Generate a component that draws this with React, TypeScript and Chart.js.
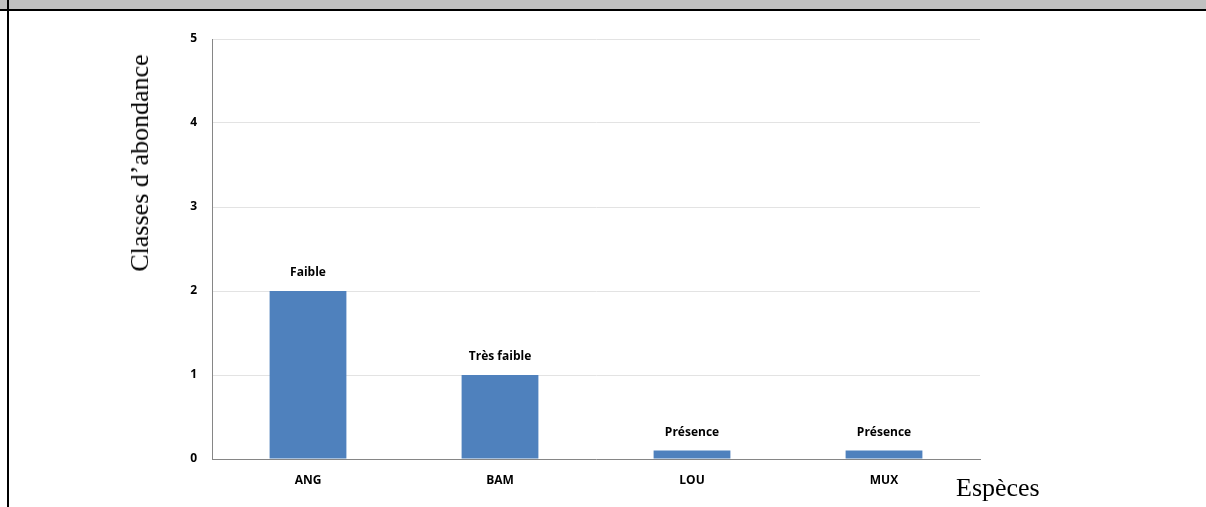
import React, { useEffect, useRef } from "react";
import { Chart, registerables } from "chart.js";

Chart.register(...registerables);

const categories = ["ANG", "BAM", "LOU", "MUX"];
const values = [2, 1, 0.1, 0.1];
const barLabels = ["Faible", "Très faible", "Présence", "Présence"];
const yTicks = [0, 1, 2, 3, 4, 5];
const yTitle = "Classes d’abondance";
const xTitle = "Espèces";

const FONT = "'Open Sans', Lato, sans-serif";

const barLabelPlugin = {
  id: "barLabels",
  afterDatasetsDraw(chart: any) {
    const ctx = chart.ctx;
    const meta = chart.getDatasetMeta(0);
    ctx.save();
    ctx.font = `bold 12px ${FONT}`;
    ctx.fillStyle = "#000";
    ctx.textAlign = "center";
    ctx.textBaseline = "middle";
    meta.data.forEach((bar: any, i: number) => {
      ctx.fillText(barLabels[i], bar.x, bar.y - 18);
    });
    ctx.restore();
  },
};

export default function App() {
  const ref = useRef<HTMLCanvasElement | null>(null);
  useEffect(() => {
    document.body.style.margin = "0";
    const chart = new Chart(ref.current as HTMLCanvasElement, {
      type: "bar",
      data: {
        labels: categories,
        datasets: [
          {
            data: values,
            backgroundColor: "#4F81BD",
            borderWidth: 0,
            barPercentage: 0.4,
            categoryPercentage: 1,
          },
        ],
      },
      options: {
        animation: false,
        responsive: false,
        devicePixelRatio: 1,
        layout: { padding: { left: 0, right: 226, top: 39, bottom: 0 } },
        plugins: { legend: { display: false }, tooltip: { enabled: false } },
        scales: {
          x: {
            grid: { display: false, drawTicks: false },
            border: { display: true, color: "#868686", width: 1 },
            ticks: {
              padding: 14,
              color: "#000",
              font: { family: FONT, size: 12, weight: "bold" },
            },
            afterFit: (s: any) => {
              s.height = 48;
            },
          },
          y: {
            min: 0,
            max: 5,
            afterBuildTicks: (s: any) => {
              s.ticks = yTicks.map((v) => ({ value: v }));
            },
            grid: { color: "#e3e3e3", drawTicks: false, lineWidth: 1 },
            border: { display: true, color: "#868686", width: 1 },
            ticks: {
              padding: 15,
              color: "#000",
              font: { family: FONT, size: 12, weight: "bold" },
            },
            afterFit: (s: any) => {
              s.width = 212;
            },
          },
        },
      },
      plugins: [barLabelPlugin],
    });
    return () => chart.destroy();
  }, []);

  return (
    <div style={{ position: "relative", width: 1206, height: 507, overflow: "hidden", background: "#fff" }}>
      <div style={{ position: "absolute", left: 0, top: 0, width: 1206, height: 9, background: "#c0c0c0" }} />
      <div style={{ position: "absolute", left: 0, top: 9, width: 1206, height: 2, background: "#000" }} />
      <div style={{ position: "absolute", left: 7, top: 0, width: 2, height: 507, background: "#000" }} />
      <canvas ref={ref} width={1206} height={507} style={{ position: "absolute", left: 0, top: 0 }} />
      <div
        style={{
          position: "absolute",
          left: 140,
          top: 163,
          transform: "translate(-50%, -50%) rotate(-90deg)",
          whiteSpace: "nowrap",
          fontFamily: "'Liberation Serif', 'Times New Roman', serif",
          fontSize: 26,
          color: "#000",
          lineHeight: 1,
        }}
      >
        {yTitle}
      </div>
      <div
        style={{
          position: "absolute",
          left: 956,
          top: 475,
          whiteSpace: "nowrap",
          fontFamily: "'Liberation Serif', 'Times New Roman', serif",
          fontSize: 26,
          color: "#000",
          lineHeight: 1,
        }}
      >
        {xTitle}
      </div>
    </div>
  );
}
